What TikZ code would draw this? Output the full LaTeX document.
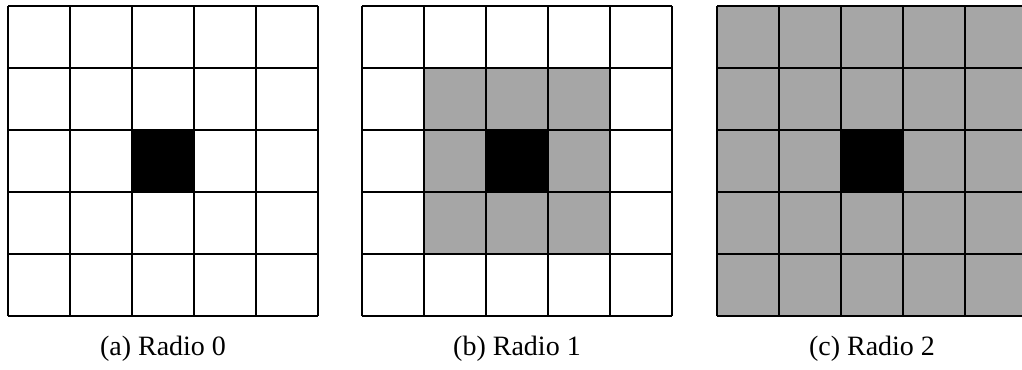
\documentclass[tikz,border=0pt]{standalone}
\usepackage{fontspec}
\setmainfont{Liberation Serif}
\usepackage{xcolor}
\definecolor{cellGray}{RGB}{166,166,166}
\usepackage{tikz}
\usetikzlibrary{positioning}

\begin{document}
\begin{tikzpicture}[x=0.75pt,y=0.75pt]
  \useasboundingbox (0,0) rectangle (1022,369);
  \tikzset{gridline/.style={black, line width=1.7pt},
    caption/.style={font=\fontsize{21}{25}\selectfont, inner sep=0pt}}
  % three 5x5 neighbourhoods, one per radius
  \foreach \ox/\r/\lab in {8/0/a, 362/1/b, 717/2/c} {
    \begin{scope}[shift={(\ox,53)}]
      \fill[cellGray] ({62*(2-\r)},{62*(2-\r)}) rectangle ++({62*(2*\r+1)},{62*(2*\r+1)});
      \fill[black] (124,124) rectangle ++(62,62);
      \draw[gridline] (0,0) grid[step=62] (310,310);
    \end{scope}
    \node[caption] (cap\lab) at (\ox+155,20) {(\lab) Radio \r};
  }
\end{tikzpicture}
\end{document}
